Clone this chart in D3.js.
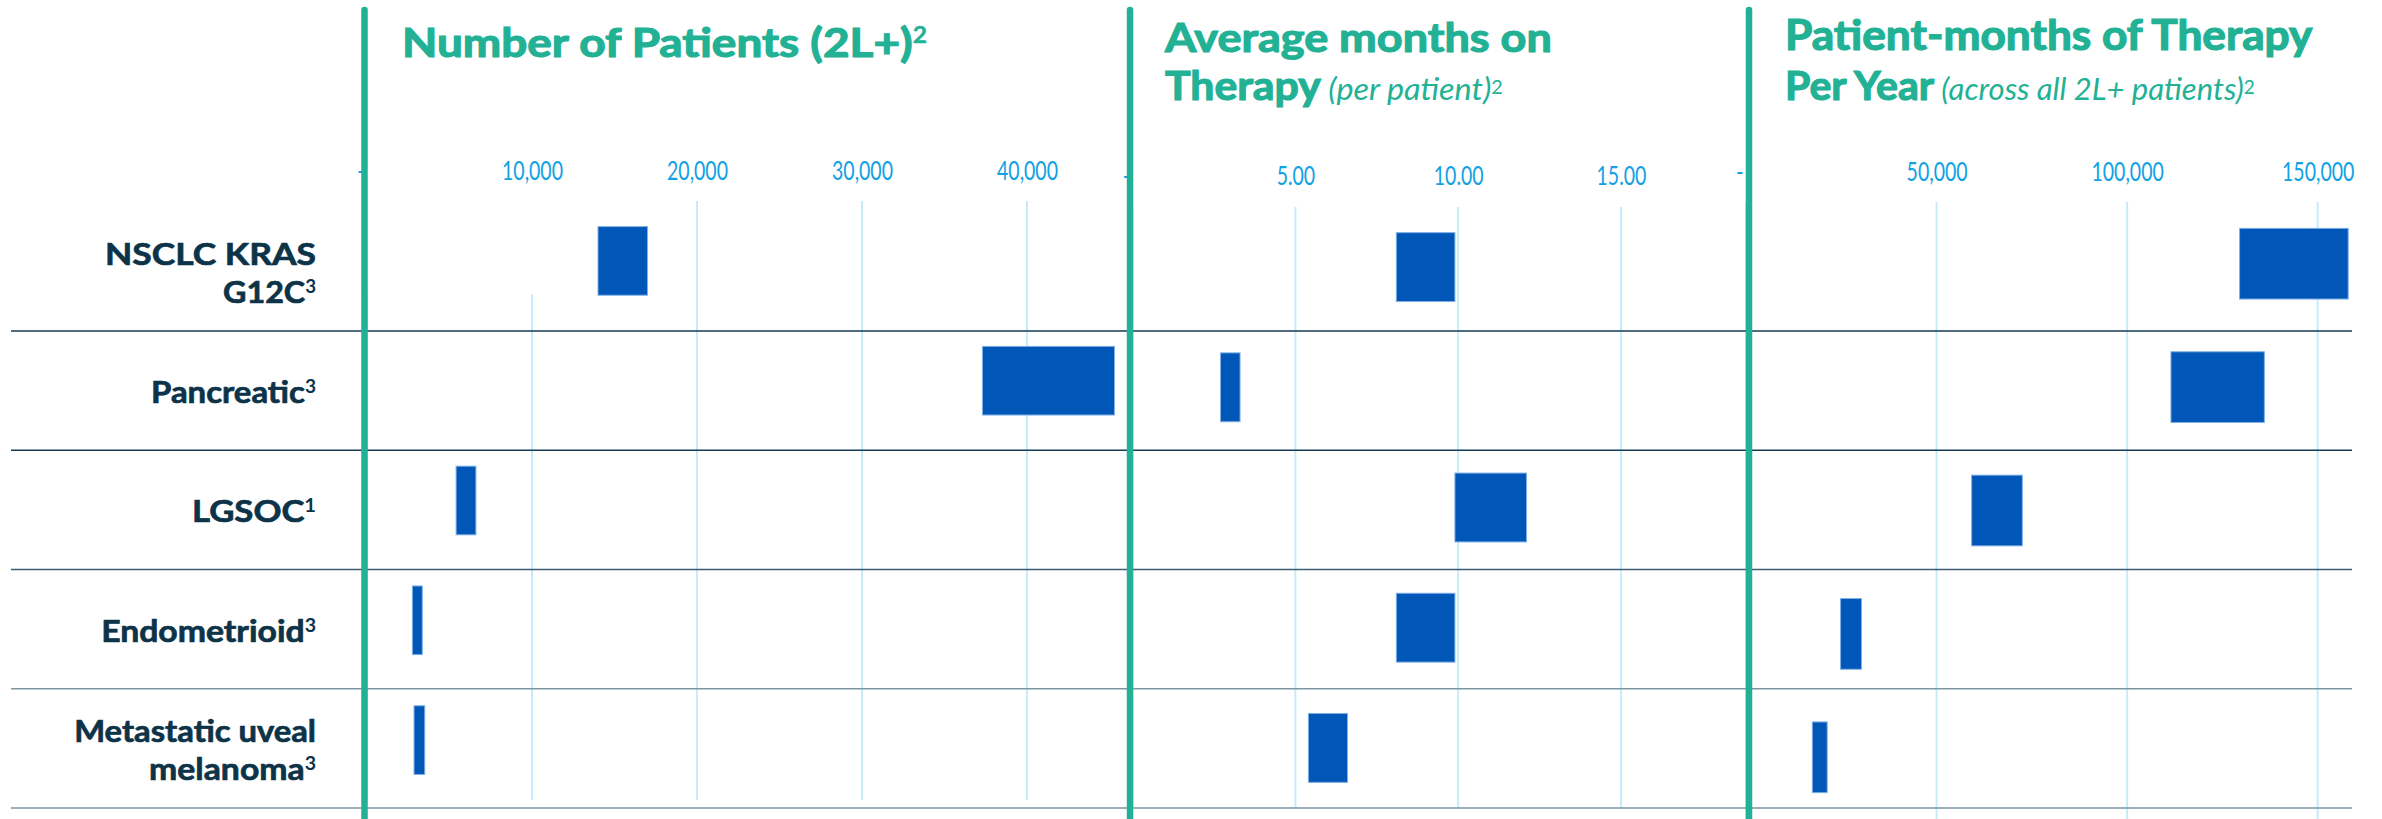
<!DOCTYPE html>
<html>
<head>
<meta charset="utf-8">
<style>
  body { margin: 0; background: #fff; }
  svg { display: block; }
  text { font-family: Lato, "Open Sans", sans-serif; }
</style>
<title>2L+ patients by indication</title>
</head>
<body>
<script src="https://cdn.jsdelivr.net/npm/d3@7"></script>
<script>

// rows
var indications = ["NSCLC KRAS G12C", "Pancreatic", "LGSOC", "Endometrioid", "Metastatic uveal melanoma"];
var labelLines  = [["NSCLC KRAS", "G12C"], ["Pancreatic"], ["LGSOC"], ["Endometrioid"], ["Metastatic uveal", "melanoma"]];
var footnotes   = ["3", "3", "1", "3", "3"];

// low / high estimate per row
var patientsLow  = [14000, 37300, 5400, 2750, 2850];
var patientsHigh = [17000, 45300, 6600, 3350, 3500];
var monthsLow    = [8.1, 2.7, 9.9, 8.1, 5.4];
var monthsHigh   = [9.9, 3.3, 12.1, 9.9, 6.6];
var ptMonthsLow  = [129500, 111500, 59200, 24800, 17400];
var ptMonthsHigh = [158000, 136000, 72500, 30300, 21300];

var patientTicks = [0, 10000, 20000, 30000, 40000];
var monthTicks   = [0, 5, 10, 15];
var ptMonthTicks = [0, 50000, 100000, 150000];

// titles: lines of [text, style]
var titlePatients = [[["Number of Patients (2L+)", "b"], ["2", "sup"]]];
var titleMonths   = [[["Average months on", "b"]],
                     [["Therapy", "b"], [" (per patient)", "i"], ["2", "isup"]]];
var titlePtMonths = [[["Patient-months of Therapy", "b"]],
                     [["Per Year", "b"], [" (across all 2L+ patients)", "i"], ["2", "isup"]]];

var W = 2382, H = 819;
var teal = '#23b195', navy = '#0d3349', tickBlue = '#12a1e3',
    gridBlue = '#c6ecfb', barBlue = '#0057b7';

var panels = [
	{low: patientsLow, high: patientsHigh, ticks: patientTicks, fmt: d3.format(','),
	 domain: [0, 46000], range: [367, 1126], band: [201, 800], tickY: 180, divDx: -2.5,
	 title: titlePatients, titleX: 402, titleY: [57], titleW: [525]},
	{low: monthsLow, high: monthsHigh, ticks: monthTicks, fmt: d3.format('.2f'),
	 domain: [0, 18.8], range: [1132.6, 1744.7], band: [207, 808], tickY: 185, divDx: -2.6,
	 title: titleMonths, titleX: 1165, titleY: [52, 100], titleW: [388, 338]},
	{low: ptMonthsLow, high: ptMonthsHigh, ticks: ptMonthTicks, fmt: d3.format(','),
	 domain: [0, 159000], range: [1746, 2352], band: [202, 819], tickY: 181, divDx: 3,
	 title: titlePtMonths, titleX: 1785, titleY: [50, 100], titleW: [528, 470]},
];

var segStyle = {
	b:    {size: 41, weight: 700, italic: false, dy: 0, stroke: 1.2},
	i:    {size: 31, weight: 400, italic: true,  dy: 0, stroke: 0},
	sup:  {size: 22, weight: 700, italic: false, dy: -14, stroke: 0.4},
	isup: {size: 19, weight: 400, italic: false, dy: -6, stroke: 0},
};

var svg = d3.select('body').append('svg')
	.attr('width', W)
	.attr('height', H);

var rows = d3.scaleBand().domain(indications).range([211.8, 808]);

var gGrid = svg.append('g');
var gMask = svg.append('g');
var gSep  = svg.append('g');
var gBars = svg.append('g');
var gAxis = svg.append('g');
var gDiv  = svg.append('g');
var gText = svg.append('g');

// stretch a text horizontally so it spans w pixels
function fit(text, x, y, w) {
	let bw = text.node().getBBox().width;
	text.attr('transform', `translate(${x},${y}) scale(${w / bw},1)`);
}

// tick label compression (the original digits are narrow)
var probe = svg.append('text').attr('font-size', 26).text('10,000');
var tickSx = 61 / probe.node().getBBox().width;
probe.remove();

panels.forEach(function(p, pi) {
	let x = d3.scaleLinear().domain(p.domain).range(p.range);
	let y = d3.scaleBand().domain(indications).range(p.band)
		.paddingInner(0.427).paddingOuter(0.2135);

	gGrid.selectAll(null).data(p.ticks).join('line')
		.attr('x1', d => x(d)).attr('x2', d => x(d))
		.attr('y1', p.band[0]).attr('y2', p.band[1])
		.attr('stroke', gridBlue).attr('stroke-width', 2);

	if (pi === 0) {
		// the first row label box hides the top of the 10,000 gridline
		gMask.append('rect')
			.attr('x', 11).attr('y', p.band[0] - 2)
			.attr('width', x(p.ticks[1]) + 3 - 11)
			.attr('height', rows.bandwidth() * 0.8)
			.attr('fill', '#fff');
	}

	gBars.selectAll(null).data(indications).join('rect')
		.attr('x', (d, i) => x(p.low[i]))
		.attr('width', (d, i) => x(p.high[i]) - x(p.low[i]))
		.attr('y', d => y(d))
		.attr('height', y.bandwidth())
		.attr('fill', barBlue)
		.attr('stroke', '#7fb0e6')
		.attr('stroke-width', 1);

	let axis = d3.axisTop(x)
		.tickValues(p.ticks)
		.tickSize(0)
		.tickPadding(0)
		.tickFormat(d => d === 0 ? '-' : p.fmt(d));
	let ga = gAxis.append('g')
		.attr('transform', `translate(0,${p.tickY})`)
		.call(axis);
	ga.select('.domain').remove();
	ga.selectAll('text')
		.attr('font-family', 'Lato, sans-serif')
		.attr('font-size', 26)
		.attr('fill', tickBlue)
		.attr('dx', d => d === 0 ? -9 : 0)
		.attr('transform', `scale(${tickSx},1)`);

	gDiv.append('line')
		.attr('x1', x(0) + p.divDx).attr('x2', x(0) + p.divDx)
		.attr('y1', 10).attr('y2', H + 10)
		.attr('stroke', teal)
		.attr('stroke-width', 6.5)
		.attr('stroke-linecap', 'round');

	p.title.forEach(function(line, li) {
		let t = gText.append('text').attr('fill', teal);
		line.forEach(function([s, k]) {
			let st = segStyle[k];
			t.append('tspan')
				.attr('font-size', st.size)
				.attr('font-weight', st.weight)
				.attr('font-style', st.italic ? 'italic' : 'normal')
				.attr('stroke', st.stroke ? teal : 'none')
				.attr('stroke-width', st.stroke)
				.attr('dy', st.dy)
				.attr('xml:space', 'preserve')
				.text(s);
		});
		fit(t, p.titleX, p.titleY[li], p.titleW[li]);
	});
});

// row separators
var sepColors = ['#163a50', '#163a50', '#3d5e71', '#7b95a2', '#7b95a2'];
gSep.selectAll('line').data(indications).join('line')
	.attr('x1', 11).attr('x2', 2352)
	.attr('y1', d => rows(d) + rows.bandwidth())
	.attr('y2', d => rows(d) + rows.bandwidth())
	.attr('stroke', (d, i) => sepColors[i])
	.attr('stroke-width', 1.6);

// row labels, right aligned
var labelRight = 316;
var labelW = [[211, 93], [165], [124], [215], [242, 167]];
indications.forEach(function(d, i) {
	let lines = labelLines[i];
	let cy = rows(d) + rows.bandwidth() / 2;
	lines.forEach(function(s, k) {
		let t = gText.append('text')
			.attr('text-anchor', 'end')
			.attr('fill', navy)
			.attr('font-size', 31)
			.attr('font-weight', 700);
		t.append('tspan')
			.attr('stroke', navy)
			.attr('stroke-width', 0.7)
			.text(s);
		if (k === lines.length - 1) {
			t.append('tspan')
				.attr('font-size', 18)
				.attr('dy', -10)
				.text(footnotes[i]);
		}
		fit(t, labelRight, cy + 12.5 + (k - (lines.length - 1) / 2) * 38.5, labelW[i][k]);
	});
});

</script>
</body>
</html>
